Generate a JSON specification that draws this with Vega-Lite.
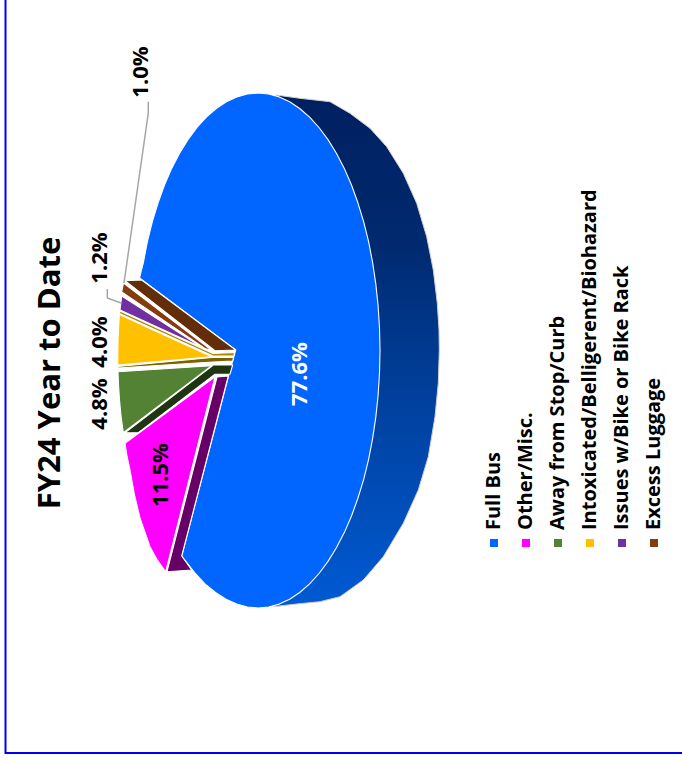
{
  "$schema": "https://vega.github.io/schema/vega-lite/v6.json",
  "width": 682,
  "height": 763,
  "autosize": {"type": "fit", "contains": "padding"},
  "padding": 0,
  "background": "white",
  "view": {"stroke": null},
  "datasets": {
    "side": [
      {"x":276,"y":95},{"x":300,"y":98.3},{"x":330,"y":101.7},{"x":350,"y":113.3},{"x":370,"y":128.3},{"x":386.7,"y":146.7},{"x":403.3,"y":173.3},{"x":416.7,"y":203.3},{"x":426.7,"y":236.7},{"x":433.3,"y":270},{"x":437.3,"y":303.3},{"x":439,"y":330},{"x":439.3,"y":350},{"x":438.3,"y":383},{"x":435,"y":416.7},{"x":428.3,"y":456.7},{"x":418.3,"y":490},{"x":403.3,"y":523.3},{"x":383.3,"y":556.7},{"x":363.3,"y":580},{"x":340,"y":596.7},{"x":320,"y":601.7},{"x":296.7,"y":604},{"x":273.3,"y":606.7},{"x":273,"y":350},{"x":276,"y":95}
    ],
    "faces": [
      {"part":"a Full Bus","x":139.5,"y":278},{"part":"a Full Bus","x":143.4,"y":262.4},{"part":"a Full Bus","x":147.4,"y":241.7},{"part":"a Full Bus","x":152.3,"y":221.8},{"part":"a Full Bus","x":158.1,"y":202.8},{"part":"a Full Bus","x":164.5,"y":185},{"part":"a Full Bus","x":171.7,"y":168.4},{"part":"a Full Bus","x":179.6,"y":153.2},{"part":"a Full Bus","x":188,"y":139.6},{"part":"a Full Bus","x":197,"y":127.5},{"part":"a Full Bus","x":206.4,"y":117.1},{"part":"a Full Bus","x":216.3,"y":108.5},{"part":"a Full Bus","x":226.4,"y":101.8},{"part":"a Full Bus","x":236.8,"y":96.9},{"part":"a Full Bus","x":247.4,"y":94},{"part":"a Full Bus","x":258,"y":93},{"part":"a Full Bus","x":268.6,"y":94},{"part":"a Full Bus","x":279.2,"y":96.9},{"part":"a Full Bus","x":289.6,"y":101.8},{"part":"a Full Bus","x":299.7,"y":108.5},{"part":"a Full Bus","x":309.6,"y":117.1},{"part":"a Full Bus","x":319,"y":127.5},{"part":"a Full Bus","x":328,"y":139.6},{"part":"a Full Bus","x":336.4,"y":153.2},{"part":"a Full Bus","x":344.3,"y":168.4},{"part":"a Full Bus","x":351.5,"y":185},{"part":"a Full Bus","x":357.9,"y":202.8},{"part":"a Full Bus","x":363.7,"y":221.8},{"part":"a Full Bus","x":368.6,"y":241.7},{"part":"a Full Bus","x":372.6,"y":262.4},{"part":"a Full Bus","x":375.8,"y":283.9},{"part":"a Full Bus","x":378.1,"y":305.8},{"part":"a Full Bus","x":379.5,"y":328},{"part":"a Full Bus","x":380,"y":350.5},{"part":"a Full Bus","x":379.5,"y":373},{"part":"a Full Bus","x":378.1,"y":395.2},{"part":"a Full Bus","x":375.8,"y":417.1},{"part":"a Full Bus","x":372.6,"y":438.6},{"part":"a Full Bus","x":368.6,"y":459.3},{"part":"a Full Bus","x":363.7,"y":479.3},{"part":"a Full Bus","x":357.9,"y":498.2},{"part":"a Full Bus","x":351.5,"y":516},{"part":"a Full Bus","x":344.3,"y":532.6},{"part":"a Full Bus","x":336.4,"y":547.8},{"part":"a Full Bus","x":328,"y":561.4},{"part":"a Full Bus","x":319,"y":573.5},{"part":"a Full Bus","x":309.6,"y":583.9},{"part":"a Full Bus","x":299.7,"y":592.5},{"part":"a Full Bus","x":289.6,"y":599.2},{"part":"a Full Bus","x":279.2,"y":604.1},{"part":"a Full Bus","x":268.6,"y":607},{"part":"a Full Bus","x":258,"y":608},{"part":"a Full Bus","x":247.4,"y":607},{"part":"a Full Bus","x":236.8,"y":604.1},{"part":"a Full Bus","x":226,"y":599.2},{"part":"a Full Bus","x":215.5,"y":592.5},{"part":"a Full Bus","x":205,"y":583.9},{"part":"a Full Bus","x":195,"y":573},{"part":"a Full Bus","x":181.7,"y":556},{"part":"a Full Bus","x":228.5,"y":376},{"part":"a Full Bus","x":235.7,"y":350},{"part":"a Full Bus","x":139.5,"y":278},

      {"part":"b Luggage side","x":125,"y":280.7},{"part":"b Luggage side","x":141.7,"y":280},{"part":"b Luggage side","x":235.7,"y":350},{"part":"b Luggage side","x":215,"y":350.7},{"part":"b Luggage side","x":125,"y":280.7},

      {"part":"c Luggage","x":123.5,"y":283},{"part":"c Luggage","x":121.7,"y":292},{"part":"c Luggage","x":205,"y":348.5},{"part":"c Luggage","x":212,"y":350.5},{"part":"c Luggage","x":123.5,"y":283},

      {"part":"d Bike Rack","x":121.7,"y":296},{"part":"d Bike Rack","x":120,"y":310},{"part":"d Bike Rack","x":203,"y":348},{"part":"d Bike Rack","x":121.7,"y":296},

      {"part":"e Intoxicated upper side","x":120,"y":311},{"part":"e Intoxicated upper side","x":213,"y":353.5},{"part":"e Intoxicated upper side","x":234.5,"y":352.5},{"part":"e Intoxicated upper side","x":234,"y":356},{"part":"e Intoxicated upper side","x":213,"y":356},{"part":"e Intoxicated upper side","x":119.5,"y":313.5},{"part":"e Intoxicated upper side","x":120,"y":311},

      {"part":"f Intoxicated lower side","x":118,"y":366.5},{"part":"f Intoxicated lower side","x":212,"y":357.5},{"part":"f Intoxicated lower side","x":233.5,"y":357.5},{"part":"f Intoxicated lower side","x":232.7,"y":361},{"part":"f Intoxicated lower side","x":213,"y":362},{"part":"f Intoxicated lower side","x":118,"y":368},{"part":"f Intoxicated lower side","x":118,"y":366.5},

      {"part":"g Intoxicated","x":119.3,"y":314.5},{"part":"g Intoxicated","x":118,"y":340},{"part":"g Intoxicated","x":117.7,"y":365},{"part":"g Intoxicated","x":211.7,"y":356.7},{"part":"g Intoxicated","x":119.3,"y":314.5},

      {"part":"h Stop side","x":125,"y":432.7},{"part":"h Stop side","x":138.3,"y":432.7},{"part":"h Stop side","x":215,"y":374.3},{"part":"h Stop side","x":230,"y":374},{"part":"h Stop side","x":232.7,"y":365},{"part":"h Stop side","x":213.3,"y":365},{"part":"h Stop side","x":125,"y":432.7},

      {"part":"i Stop","x":118,"y":371.7},{"part":"i Stop","x":118.6,"y":386},{"part":"i Stop","x":119.5,"y":400},{"part":"i Stop","x":121,"y":416},{"part":"i Stop","x":123.3,"y":432.7},{"part":"i Stop","x":211.7,"y":365.7},{"part":"i Stop","x":118,"y":371.7},

      {"part":"j Other side","x":217,"y":377},{"part":"j Other side","x":228.3,"y":376},{"part":"j Other side","x":181.7,"y":556},{"part":"j Other side","x":191.7,"y":570},{"part":"j Other side","x":167,"y":571.7},{"part":"j Other side","x":217,"y":377},

      {"part":"k Other","x":125,"y":443.3},{"part":"k Other","x":127,"y":456},{"part":"k Other","x":130,"y":470},{"part":"k Other","x":134.5,"y":495},{"part":"k Other","x":140,"y":518},{"part":"k Other","x":150,"y":546.7},{"part":"k Other","x":157,"y":559.5},{"part":"k Other","x":165.7,"y":571.7},{"part":"k Other","x":215,"y":376.7},{"part":"k Other","x":125,"y":443.3}
    ],
    "leaders": [
      {"share":"1.0%","x":148.3,"y":101.7},{"share":"1.0%","x":148.3,"y":113},{"share":"1.0%","x":124,"y":283},
      {"share":"1.2%","x":107.3,"y":289},{"share":"1.2%","x":107.3,"y":298},{"share":"1.2%","x":121,"y":303}
    ],
    "frame": [
      {"x":5.5,"y":0},{"x":5.5,"y":753},{"x":682,"y":753}
    ],
    "shares": [
      {"label":"77.6%","share":77.6,"x":300,"y":374,"tone":"white"},
      {"label":"11.5%","share":11.5,"x":161,"y":475,"tone":"black"},
      {"label":"4.8%","share":4.8,"x":100,"y":404,"tone":"black"},
      {"label":"4.0%","share":4.0,"x":100,"y":342,"tone":"black"},
      {"label":"1.2%","share":1.2,"x":100,"y":258,"tone":"black"},
      {"label":"1.0%","share":1.0,"x":141,"y":72,"tone":"black"}
    ],
    "keys": [
      {"name":"Full Bus","x":494},
      {"name":"Other/Misc.","x":526},
      {"name":"Away from Stop/Curb","x":558},
      {"name":"Intoxicated/Belligerent/Biohazard","x":590},
      {"name":"Issues w/Bike or Bike Rack","x":622},
      {"name":"Excess Luggage","x":654}
    ],
    "headline": [
      {"text":"FY24 Year to Date","x":51,"y":373}
    ]
  },
  "encoding": {
    "x": {"field":"x","type":"quantitative","scale":{"domain":[0,682]},"axis":null},
    "y": {"field":"y","type":"quantitative","scale":{"domain":[0,763],"reverse":true},"axis":null}
  },
  "layer": [
    {
      "data": {"name":"frame"},
      "mark": {"type":"line","stroke":"#0000ee","strokeWidth":2,"clip":true},
      "encoding": {"order":{"value":null}}
    },
    {
      "data": {"name":"side"},
      "mark": {
        "type":"line",
        "stroke":"#d0d0d0",
        "strokeWidth":1,
        "fill":{"gradient":"linear","x1":0,"y1":0,"x2":0,"y2":1,"stops":[
          {"offset":0,"color":"#002060"},
          {"offset":0.3,"color":"#002a70"},
          {"offset":0.5,"color":"#003a90"},
          {"offset":1,"color":"#005ad4"}
        ]}
      },
      "encoding": {"order":{"value":null}}
    },
    {
      "data": {"name":"faces"},
      "mark": {"type":"line","stroke":"white","strokeWidth":1.1,"strokeJoin":"round"},
      "encoding": {
        "order":{"value":null},
        "detail":{"field":"part"},
        "fill":{
          "field":"part",
          "type":"nominal",
          "legend":null,
          "scale":{
            "domain":["a Full Bus","b Luggage side","c Luggage","d Bike Rack","e Intoxicated upper side","f Intoxicated lower side","g Intoxicated","h Stop side","i Stop","j Other side","k Other"],
            "range":["#0066ff","#622d08","#843c0c","#7030a0","#b38600","#7f6000","#ffc000","#1f3410","#548235","#660066","#ff00ff"]
          }
        }
      }
    },
    {
      "data": {"name":"leaders"},
      "mark": {"type":"line","stroke":"#a6a6a6","strokeWidth":1.5},
      "encoding": {"order":{"value":null},"detail":{"field":"share"}}
    },
    {
      "data": {"name":"shares"},
      "mark": {"type":"text","font":"Open Sans","fontWeight":"bold","fontSize":22,"angle":270,"align":"center","baseline":"middle"},
      "encoding": {
        "text":{"field":"label"},
        "color":{"field":"tone","type":"nominal","scale":null}
      }
    },
    {
      "data": {"name":"headline"},
      "mark": {"type":"text","font":"Open Sans","fontWeight":"bold","fontSize":31,"angle":270,"align":"center","baseline":"middle","color":"black"},
      "encoding": {"text":{"field":"text"}}
    },
    {
      "data": {"name":"keys"},
      "transform": [{"calculate":"530","as":"y"}],
      "mark": {"type":"text","font":"Open Sans","fontWeight":"bold","fontSize":20,"angle":270,"align":"left","baseline":"middle","color":"black"},
      "encoding": {"text":{"field":"name"}}
    },
    {
      "data": {"name":"keys"},
      "transform": [{"calculate":"543","as":"y"}],
      "mark": {"type":"square","size":64,"filled":true,"opacity":1},
      "encoding": {
        "color":{
          "field":"name",
          "type":"nominal",
          "legend":null,
          "scale":{
            "domain":["Full Bus","Other/Misc.","Away from Stop/Curb","Intoxicated/Belligerent/Biohazard","Issues w/Bike or Bike Rack","Excess Luggage"],
            "range":["#0066ff","#ff00ff","#548235","#ffc000","#7030a0","#843c0c"]
          }
        }
      }
    }
  ]
}
